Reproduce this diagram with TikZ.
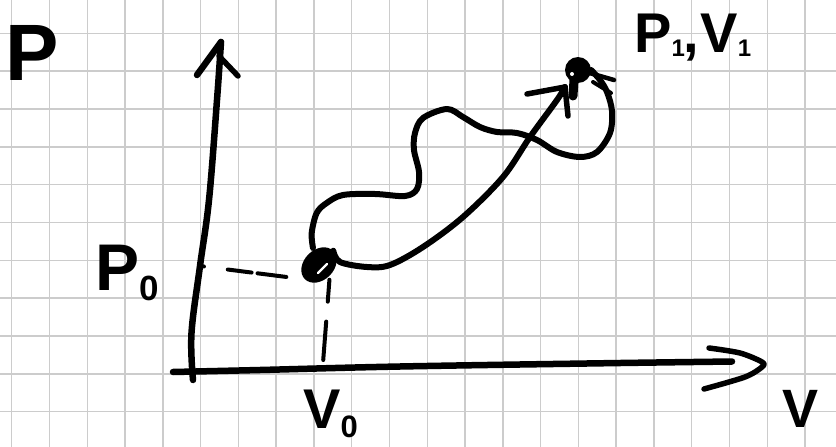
\documentclass[tikz,border=0pt]{standalone}
\usepackage{fontspec}
\setmainfont{Liberation Sans}
\usetikzlibrary{shapes.geometric}
\tikzset{
  gridline/.style={gray!40, line width=1.5pt},
  ink/.style={line width=6.5pt, line cap=round, line join=round, black},
  curve/.style={line width=6pt, line cap=round, line join=round, black},
  tip/.style={line width=5.5pt, line cap=round, line join=round, black},
  guide/.style={line width=4pt, line cap=round, black},
  lbl/.style={inner sep=0pt, anchor=base west, font=\bfseries},
}
\begin{document}
\begin{tikzpicture}[x=1pt,y=-1pt]
\fill[white] (0,0) rectangle (836,447);
\useasboundingbox (0,0) rectangle (836,447);
% grid paper
\foreach \i in {0,...,21} \draw[gridline] ({11.7+37.78*\i},0) -- ({11.7+37.78*\i},447);
\foreach \j in {0,...,10} \draw[gridline] (0,{33.3+37.84*\j}) -- (836,{33.3+37.84*\j});

% axes
\coordinate (ybase) at (193,380);
\coordinate (ytip) at (221,42);
\coordinate (xbase) at (173,372);
\coordinate (xtip) at (762,362);
\draw[ink] plot[smooth, tension=0.6] coordinates {(ybase) (191.5,333) (200,266) (209,200) (217,100) (ytip)};
\draw[ink] (197,75) -- (ytip);
\draw[tip] (219,56) -- (238,76);
\draw[ink] plot[smooth, tension=0.6] coordinates {(xbase) (260,370) (400,366.5) (600,363.3) (732,361.5)};
\draw[tip] plot[smooth, tension=0.5] coordinates {(709,348) (740,353) (xtip) (762,367) (745,377) (704,389)};

% states
\node[ellipse, fill=black, minimum width=40pt, minimum height=30pt, inner sep=0pt, rotate=45] (p0) at (319,265) {};
\draw[white, line width=2.2pt, line cap=round] (318,273) -- (327,264);
\node[circle, fill=black, minimum size=26pt, inner sep=0pt] (p1) at (578,70) {};
\draw[ink, line width=9pt] (574,80) -- (573,96);
\draw[tip, line width=4.5pt] (586,72) -- (614,80);
\draw[tip, line width=4pt] (593,82) -- (611,93);
\fill[white] (572,74) circle (2pt);

% guide lines
\coordinate (p0y) at (200,266);
\coordinate (p0x) at (323,363);
\draw[guide, dash pattern=on 4pt off 24pt on 24pt off 6pt on 29pt off 60pt] (p0y) -- (p0.west);
\draw[guide, shorten <=4pt, shorten >=3pt, dash pattern=on 22pt off 20pt on 40pt] (p0.south) -- (p0x);

% wavy process
\draw[curve] plot[smooth, tension=0.55] coordinates {
  (313,248) (311.7,233) (316.7,213) (326.7,203) (343,195) (375,194) (405,196)
  (417,189) (419,172) (414,150) (415,133) (423,118) (447,109) (463,117)
  (480,127) (497,132) (517,133) (537,140) (557,152) (580,157) (597,152)
  (610,133) (612,111) (607,92) (600,80) (p1.east)};
% smooth process with arrow
\coordinate (arrtip) at (565,87);
\draw[curve] plot[smooth, tension=0.55] coordinates {
  (p0.east) (340,262) (367,267) (390,265) (423,247) (463,217) (503,177) (530,137) (557,100) (arrtip)};
\draw[tip] (527,94) -- (arrtip);
\draw[tip] (arrtip) -- (568,116);

% labels
\node[lbl, font=\bfseries\fontsize{80}{80}\selectfont] (lp) at (5,80) {P};
\node[lbl, font=\bfseries\fontsize{66}{66}\selectfont] (lp0) at (95,290) {P\raisebox{-10pt}{\fontsize{35}{35}\selectfont 0}};
\node[lbl, font=\bfseries\fontsize{56}{56}\selectfont] (lv0) at (303,428) {V\raisebox{-9pt}{\fontsize{31}{31}\selectfont 0}};
\node[lbl, font=\bfseries\fontsize{56}{56}\selectfont] (lp1) at (634,52) {P\raisebox{-5pt}{\fontsize{24}{24}\selectfont 1}\kern-1pt,\kern1pt V\raisebox{-5pt}{\fontsize{24}{24}\selectfont 1}};
\node[lbl, font=\bfseries\fontsize{54}{54}\selectfont] (lv) at (782,427) {V};
\end{tikzpicture}
\end{document}
